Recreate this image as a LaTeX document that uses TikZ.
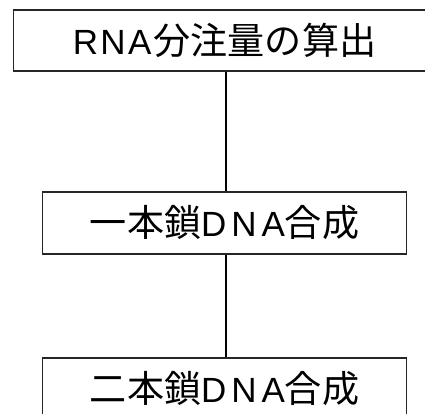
\documentclass[tikz,border=0pt]{standalone}
\usepackage{fontspec}
\setmainfont{Liberation Sans}
\newfontfamily\cjk{Noto Sans CJK JP}[Scale=1.06]
\newcommand{\latR}[1]{{\addfontfeatures{LetterSpace=7}#1}}
\newcommand{\latD}[1]{{\addfontfeatures{LetterSpace=14}#1}}
\begin{document}
\begin{tikzpicture}[x=1pt,y=1pt,
  box/.style={draw=black!85, line width=1.1pt, fill=white, inner sep=0pt, font=\fontsize{35}{40}\selectfont},
  link/.style={draw=black, line width=1.1pt}]
\useasboundingbox (0,0) rectangle (425,-414);
\clip (0,0) rectangle (425,-414);
\fill[white] (0,0) rectangle (425,-414);
\node[box, minimum width=422pt, minimum height=61pt] (a) at (224.5,-40.5) {\latR{RNA}\hspace{2pt}{\cjk 分注量の算出}};
\node[box, minimum width=364pt, minimum height=62pt] (b) at (224.5,-223) {{\cjk 一本鎖}\latD{DNA}{\cjk 合成}};
\node[box, minimum width=364pt, minimum height=62pt] (c) at (224.5,-389) {{\cjk 二本鎖}\latD{DNA}{\cjk 合成}};
\draw[link] ([xshift=1.5pt]a.south) -- ([xshift=1.5pt]b.north);
\draw[link] ([xshift=1.5pt]b.south) -- ([xshift=1.5pt]c.north);
\end{tikzpicture}
\end{document}
